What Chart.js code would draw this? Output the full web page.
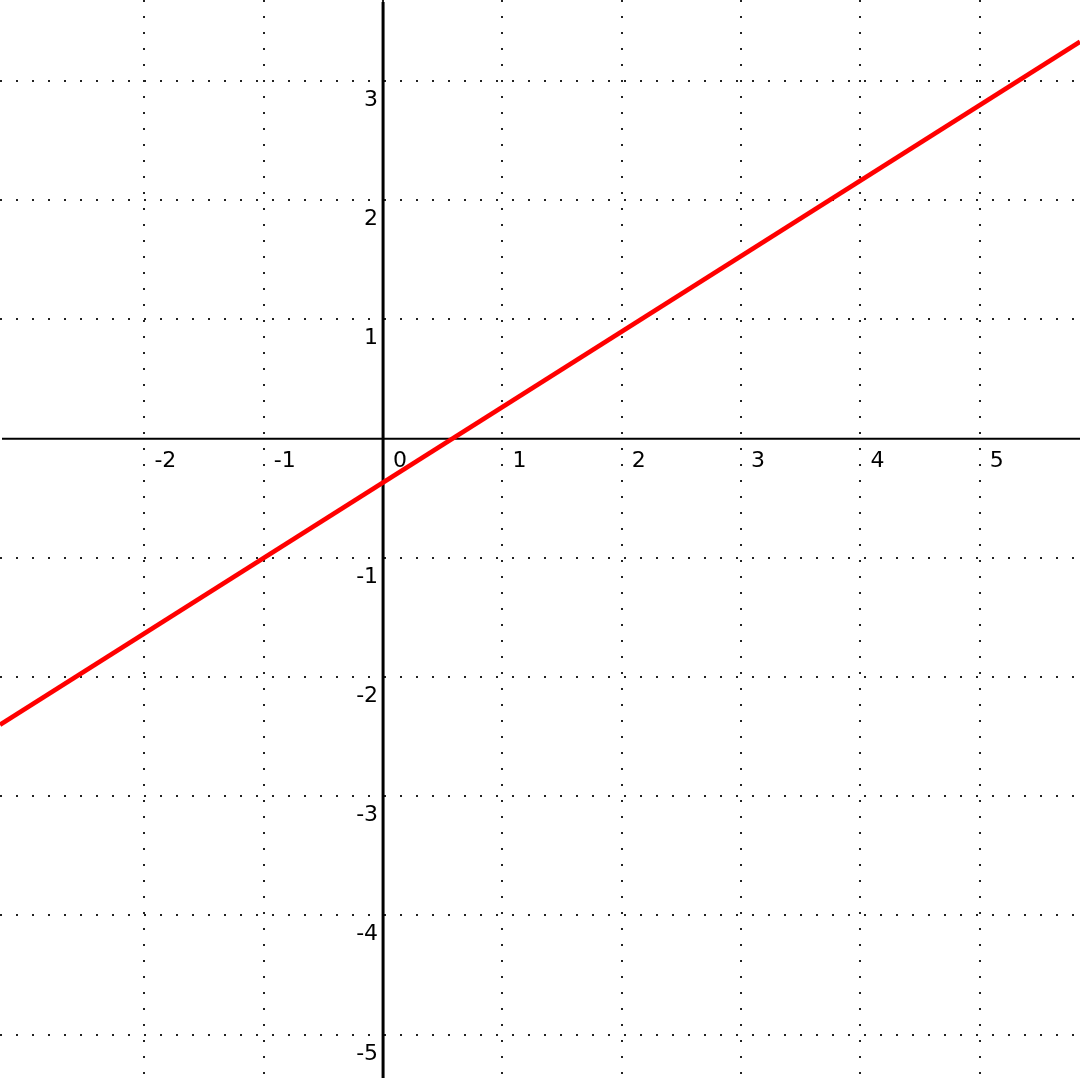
<!DOCTYPE html>
<html>
<head>
<meta charset="utf-8">
<title>Line plot</title>
<script src="https://cdn.jsdelivr.net/npm/chart.js@4.4.1/dist/chart.umd.min.js"></script>
<style>
    body { margin: 0; background: #fff; }
    #wrap { width: 1080px; height: 1080px; }
</style>
</head>
<body>
<div id="wrap"><canvas id="chart" width="1080" height="1080"></canvas></div>
<script>
// visible window of the plot
var xRange = [-3.21, 5.84]
var yRange = [-5.38, 3.68]

// tick / grid positions and their labels
var xTicks = [-2, -1, 0, 1, 2, 3, 4, 5]
var yTicks = [-5, -4, -3, -2, -1, 1, 2, 3]

var lineX = [-3.21, 5.84]
var lineY = [-2.40, 3.33]

function setTicks(values) {
    return function (axis) {
        axis.ticks = values.map(function (v) { return { value: v } })
    }
}

var axesPlugin = {
    id: 'axes',
    beforeDatasetsDraw: function (chart) {
        var ctx = chart.ctx
        var area = chart.chartArea
        var xs = chart.scales.x
        var ys = chart.scales.y
        var x0 = xs.getPixelForValue(0)
        var y0 = ys.getPixelForValue(0)

        ctx.save()
        ctx.strokeStyle = '#000'

        // x axis
        ctx.lineWidth = 2
        ctx.beginPath()
        ctx.moveTo(area.left + 2, y0)
        ctx.lineTo(area.right, y0)
        ctx.stroke()

        // y axis
        ctx.lineWidth = 3
        ctx.beginPath()
        ctx.moveTo(x0, area.top + 2)
        ctx.lineTo(x0, area.bottom - 2)
        ctx.stroke()

        ctx.fillStyle = '#000'
        ctx.font = '22px "DejaVu Sans"'
        ctx.textBaseline = 'alphabetic'

        ctx.textAlign = 'left'
        for (var i in xTicks) {
            var px = xs.getPixelForValue(xTicks[i])
            ctx.fillText(String(xTicks[i]), px + 10, y0 + 28)
        }

        ctx.textAlign = 'right'
        for (var j in yTicks) {
            var py = ys.getPixelForValue(yTicks[j])
            ctx.fillText(String(yTicks[j]), x0 - 5, py + 25)
        }
        ctx.restore()
    }
}

var points = lineX.map(function (x, i) { return { x: x, y: lineY[i] } })

var ctx = document.getElementById("chart").getContext('2d')
var chart = new Chart(ctx, {
    type: 'scatter',
    data: {
        datasets: [{
            data: points,
            showLine: true,
            borderColor: '#ff0000',
            borderWidth: 4.5,
            pointRadius: 0,
            fill: false
        }]
    },
    options: {
        responsive: false,
        animation: false,
        layout: { padding: 0 },
        plugins: {
            legend: { display: false },
            tooltip: { enabled: false }
        },
        scales: {
            x: {
                type: 'linear',
                min: xRange[0],
                max: xRange[1],
                afterBuildTicks: setTicks(xTicks),
                ticks: { display: false },
                grid: { color: '#222', lineWidth: 2, drawTicks: false },
                border: { display: false, dash: [2, 14] }
            },
            y: {
                type: 'linear',
                min: yRange[0],
                max: yRange[1],
                afterBuildTicks: setTicks(yTicks),
                ticks: { display: false },
                grid: { color: '#222', lineWidth: 2, drawTicks: false },
                border: { display: false, dash: [2, 14] }
            }
        }
    },
    plugins: [axesPlugin]
})
</script>
</body>
</html>
